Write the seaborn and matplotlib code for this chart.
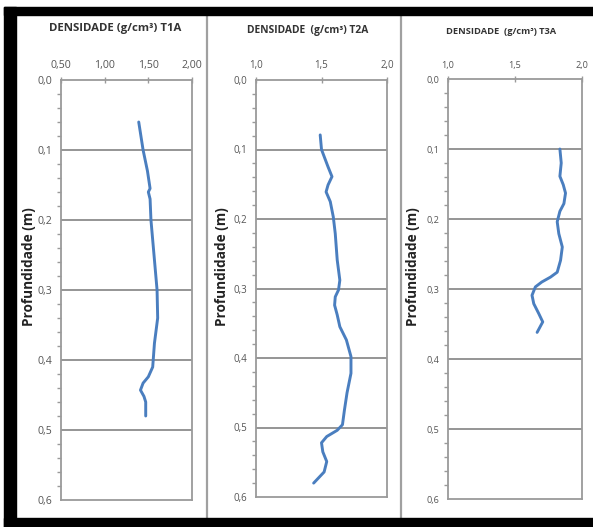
import numpy as np
import pandas as pd
import matplotlib
matplotlib.use("Agg")
import matplotlib.pyplot as plt
import seaborn as sns
from matplotlib.patches import Rectangle
from matplotlib.lines import Line2D
from matplotlib.ticker import MultipleLocator

# ---- data ----
t1a_depth = [0.06, 0.10, 0.13, 0.155, 0.16, 0.17, 0.20, 0.25, 0.30, 0.34, 0.376, 0.41, 0.424, 0.433, 0.443, 0.452, 0.46, 0.48]
t1a_dens = [1.39, 1.44, 1.49, 1.52, 1.50, 1.52, 1.53, 1.565, 1.60, 1.607, 1.57, 1.55, 1.50, 1.44, 1.41, 1.45, 1.47, 1.47]

t2a_depth = [0.079, 0.10, 0.125, 0.139, 0.151, 0.161, 0.175, 0.197, 0.221, 0.259, 0.288, 0.302, 0.312, 0.324, 0.338,
             0.355, 0.374, 0.398, 0.422, 0.45, 0.475, 0.496, 0.504, 0.513, 0.522, 0.535, 0.549, 0.564, 0.58]
t2a_dens = [1.49, 1.50, 1.55, 1.58, 1.55, 1.535, 1.567, 1.59, 1.605, 1.62, 1.64, 1.63, 1.605, 1.60, 1.62,
            1.64, 1.69, 1.725, 1.725, 1.695, 1.675, 1.66, 1.62, 1.54, 1.50, 1.51, 1.54, 1.52, 1.44]

t3a_depth = [0.100, 0.120, 0.139, 0.151, 0.163, 0.178, 0.189, 0.204, 0.221, 0.240, 0.259, 0.276, 0.283,
             0.290, 0.297, 0.309, 0.321, 0.335, 0.347, 0.362]
t3a_dens = [1.835, 1.845, 1.835, 1.86, 1.877, 1.865, 1.835, 1.815, 1.827, 1.853, 1.84, 1.815, 1.765,
            1.70, 1.652, 1.627, 1.64, 1.677, 1.707, 1.665]

titles = ["DENSIDADE (g/cm³) T1A", "DENSIDADE  (g/cm³) T2A", "DENSIDADE  (g/cm³) T3A"]
xlims = [(0.5, 2.0), (1.0, 2.0), (1.0, 2.0)]
xticks = [[0.5, 1.0, 1.5, 2.0], [1.0, 1.5, 2.0], [1.0, 1.5, 2.0]]
xticklabels = [["0,50", "1,00", "1,50", "2,00"], ["1,0", "1,5", "2,0"], ["1,0", "1,5", "2,0"]]
yticks = [0.0, 0.1, 0.2, 0.3, 0.4, 0.5, 0.6]
yticklabels = ["0,0", "0,1", "0,2", "0,3", "0,4", "0,5", "0,6"]
ylabel = "Profundidade (m)"

series = [(t1a_depth, t1a_dens), (t2a_depth, t2a_dens), (t3a_depth, t3a_dens)]

# ---- figure ----
sns.set_style("white")
plt.rcParams['font.family'] = ['Open Sans', 'DejaVu Sans']
W, H = 593, 527
fig = plt.figure(figsize=(W / 100, H / 100), dpi=100)

def fx(px):
    return px / W

def fy(py):
    return 1 - py / H

# axes boxes in pixels: left, right, top, bottom
boxes = [(61, 192, 80, 500), (256, 387, 80, 497), (448, 582, 79, 499)]
title_pos = [(115, 29), (308, 30), (501, 32)]
title_size = [8.2, 7.4, 6.7]
tick_size = [7.6, 7.0, 6.6]
ylab_x = [29, 222, 413]
line_color = "#4a7ebf"
grid_color = "#8c8c8c"
spine_color = "#9a9a9a"
tick_color = "#555555"

for i, (depth, dens) in enumerate(series):
    l, r, t, b = boxes[i]
    ax = fig.add_axes([fx(l), fy(b), fx(r - l), (b - t) / H])
    df = pd.DataFrame({"dens": dens, "depth": depth})
    sns.lineplot(data=df, x="dens", y="depth", sort=False, estimator=None,
                 color=line_color, linewidth=2.1, ax=ax,
                 solid_joinstyle='round', solid_capstyle='round')
    ax.set_xlim(*xlims[i])
    ax.set_ylim(0.6, 0.0)
    ax.xaxis.tick_top()
    ax.set_xticks(xticks[i])
    ax.set_xticklabels(xticklabels[i])
    ax.set_yticks(yticks)
    ax.set_yticklabels(yticklabels)
    ax.yaxis.set_minor_locator(MultipleLocator(0.02))
    ax.tick_params(axis='both', which='major', direction='inout', length=5, width=1.0,
                   color=spine_color, labelcolor=tick_color, labelsize=tick_size[i], pad=4)
    ax.tick_params(axis='y', which='minor', direction='out', length=3, width=1.0, color=spine_color, left=True)
    ax.set_xlabel("")
    ax.set_ylabel("")
    ax.grid(False)
    for yv in yticks[1:-1]:
        ax.axhline(yv, color=grid_color, linewidth=1.3, zorder=0)
    for s in ax.spines.values():
        s.set_color(spine_color)
        s.set_linewidth(1.3)
    tx, ty = title_pos[i]
    fig.text(fx(tx), fy(ty), titles[i], ha='center', va='center', fontsize=title_size[i],
             fontweight='bold', color="#333333")
    fig.text(fx(ylab_x[i]), fy(267), ylabel, ha='center', va='center', rotation=90,
             fontsize=9.8, fontweight='bold', color="#222222")

# panel dividers
for xd in [207, 401]:
    fig.add_artist(Line2D([fx(xd), fx(xd)], [fy(518), fy(15)], color="#a0a0a0", linewidth=1.6))

# black frame of the screenshot
fig.add_artist(Rectangle((fx(4), fy(15)), 1 - fx(4), 8 / H, color="black", transform=fig.transFigure, zorder=5))
fig.add_artist(Rectangle((fx(4), 0), 12 / W, fy(7), color="black", transform=fig.transFigure, zorder=5))
fig.add_artist(Rectangle((fx(4), 0), 1 - fx(4), 9 / H, color="black", transform=fig.transFigure, zorder=5))

fig.savefig("out.png", dpi=100)
